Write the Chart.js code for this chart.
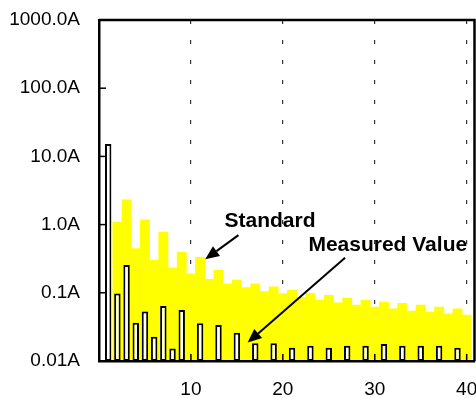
<!DOCTYPE html>
<html>
<head>
<meta charset="utf-8">
<script src="https://cdn.jsdelivr.net/npm/chart.js@4/dist/chart.umd.min.js"></script>
<style>
  html, body { margin: 0; padding: 0; background: #fff; }
  #wrap { width: 476px; height: 398px; position: relative; }
</style>
</head>
<body>
<div id="wrap"><canvas id="c" width="476" height="398"></canvas></div>
<script>
// ---- data ----
const harmonics = [1,2,3,4,5,6,7,8,9,10,11,12,13,14,15,16,17,18,19,20,21,22,23,24,25,26,27,28,29,30,31,32,33,34,35,36,37,38,39,40];
const standardValues = [null,1.09,2.30,0.444,1.17,0.303,0.779,0.233,0.397,0.189,0.332,0.158,0.216,0.135,0.154,0.119,0.135,0.104,0.122,0.097,0.110,0.086,0.098,0.078,0.092,0.071,0.084,0.066,0.078,0.062,0.073,0.058,0.070,0.054,0.066,0.052,0.062,0.049,0.058,0.047];
const measuredValues = [15.2,0.098,0.256,0.0365,0.053,0.0227,0.064,0.0153,0.056,null,0.0357,null,0.0337,null,0.026,null,0.0182,null,0.0182,null,0.0157,null,0.0168,null,0.0157,null,0.0168,null,0.0168,null,0.0178,null,0.0168,null,0.0168,null,0.0168,null,0.0157,null];
const xTickValues = [10,20,30,40];
const yTickValues = [0.01,0.1,1,10,100,1000];
const yTickLabels = ['0.01A','0.1A','1.0A','10.0A','100.0A','1000.0A'];
const seriesNames = ['Measured Value','Standard'];
// annotation labels and arrows (data coordinates)
const labelTexts = ['Standard','Measured Value'];
const labelX = [13.65, 22.78];
const labelY = [0.93, 0.41];
const arrowFromX = [15.17, 26.77];
const arrowFromY = [0.70, 0.327];
const arrowToX = [11.55, 16.17];
const arrowToY = [0.31, 0.0186];

const toPoints = (vals) => harmonics.map((h, i) => ({x: h, y: vals[i]}));

const FONT = '"Liberation Sans", Arial, sans-serif';

function drawArrow(ctx, x1, y1, x2, y2) {
  const ang = Math.atan2(y2 - y1, x2 - x1);
  const hl = 14, hw = 6;
  const bx = x2 - hl * Math.cos(ang), by = y2 - hl * Math.sin(ang);
  ctx.beginPath();
  ctx.moveTo(x1, y1);
  ctx.lineTo(bx, by);
  ctx.stroke();
  ctx.beginPath();
  ctx.moveTo(x2, y2);
  ctx.lineTo(bx + hw * Math.sin(ang), by - hw * Math.cos(ang));
  ctx.lineTo(bx - hw * Math.sin(ang), by + hw * Math.cos(ang));
  ctx.closePath();
  ctx.fill();
}

const decor = {
  id: 'decor',
  afterDraw(chart) {
    const {ctx, chartArea: a, scales: {x, y}} = chart;
    ctx.save();
    ctx.strokeStyle = '#000';
    ctx.fillStyle = '#000';
    // top and right frame
    ctx.lineWidth = 2.5;
    ctx.beginPath();
    ctx.moveTo(a.left, a.top);
    ctx.lineTo(a.right, a.top);
    ctx.lineTo(a.right, a.bottom);
    ctx.stroke();
    // inside tick marks
    ctx.lineWidth = 1.5;
    x.ticks.forEach(t => {
      const px = x.getPixelForValue(t.value);
      ctx.beginPath(); ctx.moveTo(px, a.bottom); ctx.lineTo(px, a.bottom - 7); ctx.stroke();
    });
    y.ticks.forEach(t => {
      const py = y.getPixelForValue(t.value);
      ctx.beginPath(); ctx.moveTo(a.left, py); ctx.lineTo(a.left + 7, py); ctx.stroke();
    });
    // annotations
    ctx.font = 'bold 21px ' + FONT;
    ctx.textAlign = 'left';
    ctx.textBaseline = 'alphabetic';
    labelTexts.forEach((txt, i) => {
      ctx.fillText(txt, x.getPixelForValue(labelX[i]), y.getPixelForValue(labelY[i]));
    });
    ctx.lineWidth = 2;
    labelTexts.forEach((txt, i) => {
      drawArrow(ctx,
        x.getPixelForValue(arrowFromX[i]), y.getPixelForValue(arrowFromY[i]),
        x.getPixelForValue(arrowToX[i]), y.getPixelForValue(arrowToY[i]));
    });
    ctx.restore();
  }
};

new Chart(document.getElementById('c'), {
  type: 'bar',
  data: {
    datasets: [
      {
        label: seriesNames[0],
        data: toPoints(measuredValues),
        backgroundColor: '#ffffff',
        borderColor: '#000000',
        borderWidth: 2,
        borderSkipped: false,
        grouped: false,
        barPercentage: 0.7,
        categoryPercentage: 1.0
      },
      {
        label: seriesNames[1],
        data: toPoints(standardValues),
        backgroundColor: '#ffff00',
        borderWidth: 0,
        grouped: false,
        barPercentage: 1.0,
        categoryPercentage: 1.0
      }
    ]
  },
  options: {
    responsive: false,
    animation: false,
    events: [],
    layout: { padding: { top: 20, right: 1.5, bottom: 0, left: 0 } },
    plugins: { legend: { display: false }, tooltip: { enabled: false } },
    scales: {
      x: {
        type: 'linear',
        min: 0,
        max: 40.85,
        offset: false,
        afterBuildTicks: (s) => { s.ticks = xTickValues.map(v => ({value: v})); },
        afterFit: (s) => { s.height = 37; s.paddingLeft = 0; s.paddingRight = 0; },
        ticks: {
          color: '#000',
          font: { family: FONT, size: 19 },
          padding: 17,
          autoSkip: false,
          maxRotation: 0,
          callback: (v) => String(v)
        },
        grid: {
          display: true,
          offset: false,
          drawOnChartArea: true,
          drawTicks: false,
          color: '#333333',
          lineWidth: 1.2
        },
        border: { display: true, color: '#000', width: 2.5, dash: [4, 16], z: 1 }
      },
      y: {
        type: 'logarithmic',
        min: 0.01,
        max: 1000,
        afterBuildTicks: (s) => { s.ticks = yTickValues.map(v => ({value: v})); },
        afterFit: (s) => { s.width = 99; s.paddingTop = 0; s.paddingBottom = 0; },
        ticks: {
          color: '#000',
          font: { family: FONT, size: 19 },
          padding: 19,
          autoSkip: false,
          callback: (v) => { const i = yTickValues.indexOf(v); return i >= 0 ? yTickLabels[i] : ''; }
        },
        grid: { display: true, offset: false, drawOnChartArea: false, drawTicks: false },
        border: { display: true, color: '#000', width: 2.5, z: 1 }
      }
    }
  },
  plugins: [decor]
});
</script>
</body>
</html>
